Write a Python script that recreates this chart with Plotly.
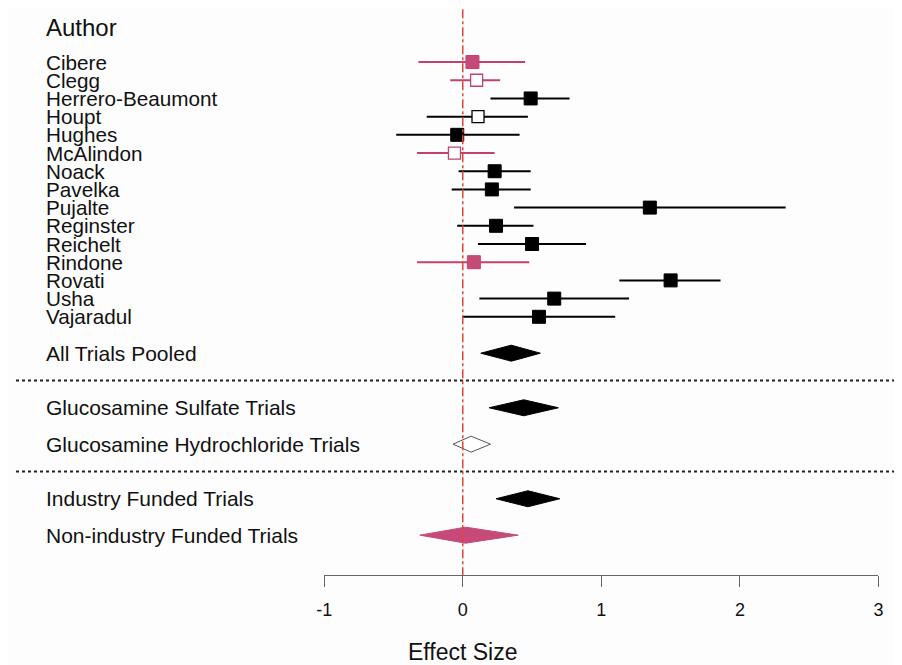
import plotly.graph_objects as go

# ---- data ----
studies = ["Cibere", "Clegg", "Herrero-Beaumont", "Houpt", "Hughes", "McAlindon",
           "Noack", "Pavelka", "Pujalte", "Reginster", "Reichelt", "Rindone",
           "Rovati", "Usha", "Vajaradul"]
effect = [0.07, 0.10, 0.49, 0.11, -0.04, -0.06, 0.23, 0.21, 1.35, 0.24, 0.50, 0.08, 1.50, 0.66, 0.55]
ci_low = [-0.32, -0.09, 0.20, -0.26, -0.48, -0.33, -0.03, -0.08, 0.37, -0.04, 0.11, -0.33, 1.13, 0.12, 0.00]
ci_high = [0.45, 0.27, 0.77, 0.47, 0.41, 0.23, 0.49, 0.49, 2.33, 0.51, 0.89, 0.48, 1.86, 1.20, 1.10]
# funding: industry (black) / non-industry (pink); salt: sulfate (filled) / hydrochloride (open)
funding = ["non", "non", "ind", "ind", "ind", "non", "ind", "ind", "ind", "ind", "ind", "non", "ind", "ind", "ind"]
salt = ["sul", "hcl", "sul", "hcl", "sul", "hcl", "sul", "sul", "sul", "sul", "sul", "sul", "sul", "sul", "sul"]

summary_labels = ["All Trials Pooled", "Glucosamine Sulfate Trials", "Glucosamine Hydrochloride Trials",
                  "Industry Funded Trials", "Non-industry Funded Trials"]
summary_effect = [0.35, 0.44, 0.06, 0.47, 0.02]
summary_low = [0.13, 0.19, -0.07, 0.24, -0.31]
summary_high = [0.56, 0.69, 0.20, 0.70, 0.40]
summary_style = ["black", "black", "open", "black", "pink"]

tick_values = [-1, 0, 1, 2, 3]
tick_labels = ["-1", "0", "1", "2", "3"]

# ---- row positions ----
study_rows = list(range(len(studies)))
summary_rows = [16, 19, 21, 24, 26]
divider_rows = [17.5, 22.5]

BLACK = "#000000"
PINK = "#c2416f"
PINK_FILL = "#c54a78"
RED = "#e0453c"
FONT = "Liberation Sans, Arial, sans-serif"
W = 902.0
LABEL_X = 28 / W

fig = go.Figure()

def add_group(fund, s, color, fill, size, lw):
    idx = [i for i in range(len(studies)) if funding[i] == fund and salt[i] == s]
    if not idx:
        return
    fig.add_trace(go.Scatter(
        x=[effect[i] for i in idx],
        y=[study_rows[i] for i in idx],
        mode="markers",
        marker=dict(symbol="square", size=size, color=fill,
                    line=dict(color=color, width=lw)),
        error_x=dict(type="data", symmetric=False,
                     array=[ci_high[i] - effect[i] for i in idx],
                     arrayminus=[effect[i] - ci_low[i] for i in idx],
                     width=0, thickness=2, color=color),
        hoverinfo="skip", showlegend=False))

add_group("ind", "sul", BLACK, BLACK, 13, 1)
add_group("ind", "hcl", BLACK, "white", 12, 1.3)
add_group("non", "sul", PINK, PINK_FILL, 13, 1)
add_group("non", "hcl", PINK, "white", 12, 1.3)

H = 0.44
for lab, e, lo, hi, st, r in zip(summary_labels, summary_effect, summary_low, summary_high,
                                 summary_style, summary_rows):
    if st == "black":
        fc, lc = BLACK, BLACK
    elif st == "pink":
        fc, lc = PINK_FILL, PINK_FILL
    else:
        fc, lc = "white", "#555555"
    fig.add_trace(go.Scatter(
        x=[lo, e, hi, e, lo], y=[r, r - H, r, r + H, r],
        mode="lines", fill="toself", fillcolor=fc,
        line=dict(color=lc, width=1),
        hoverinfo="skip", showlegend=False))

annotations = [dict(text="Author", x=LABEL_X, xref="paper", y=-1.9, yref="y",
                    xanchor="left", yanchor="middle", showarrow=False,
                    font=dict(family=FONT, size=24, color="#111111"))]
for name, r in zip(studies, study_rows):
    annotations.append(dict(text=name, x=LABEL_X, xref="paper", y=r, yref="y",
                            xanchor="left", yanchor="middle", showarrow=False,
                            font=dict(family=FONT, size=20.7, color="#111111")))
for lab, r in zip(summary_labels, summary_rows):
    annotations.append(dict(text=lab, x=LABEL_X, xref="paper", y=r, yref="y",
                            xanchor="left", yanchor="middle", showarrow=False,
                            font=dict(family=FONT, size=21, color="#111111")))
annotations.append(dict(text="Effect Size", x=0, xref="x", y=-0.1358, yref="paper",
                        xanchor="center", yanchor="middle", showarrow=False,
                        font=dict(family=FONT, size=23, color="#111111")))

shapes = []
for r in divider_rows:
    shapes.append(dict(type="line", xref="paper", x0=0, x1=1, yref="y", y0=r, y1=r,
                       line=dict(color="#222222", width=2, dash="3px,3px")))
shapes.append(dict(type="line", xref="x", x0=0, x1=0, yref="y", y0=-2.9, y1=28.19,
                   line=dict(color=RED, width=1.5, dash="dashdot"), layer="above"))

fig.update_layout(
    width=902, height=665,
    margin=dict(l=0, r=0, t=0, b=98),
    paper_bgcolor="#fdfdfd", plot_bgcolor="#fdfdfd",
    xaxis=dict(domain=[312.7 / W, 875.1 / W], range=[-1, 3], showgrid=False, zeroline=False,
               showline=True, linecolor="#666666", linewidth=1,
               ticks="outside", ticklen=11, tickcolor="#666666", tickwidth=1,
               tickvals=tick_values, ticktext=tick_labels, ticklabelstandoff=7,
               tickfont=dict(family=FONT, size=18, color="#111111")),
    yaxis=dict(range=[28.19, -2.97], visible=False, showgrid=False, zeroline=False),
    annotations=annotations, shapes=shapes,
)

fig.write_html("out.html")
